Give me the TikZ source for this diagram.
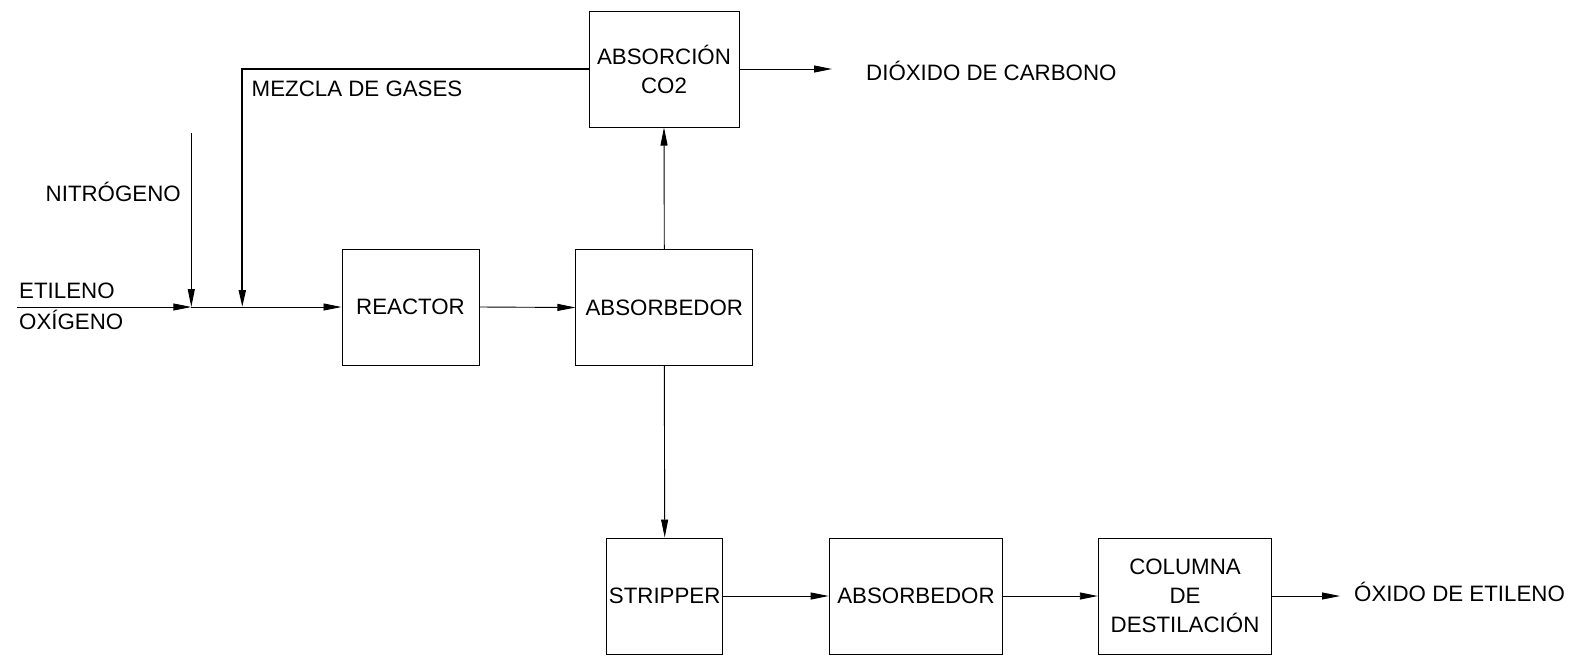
\documentclass[tikz,border=0pt]{standalone}
\usepackage{fontspec}
\setmainfont{Liberation Sans}
\usetikzlibrary{arrows.meta}
\begin{document}
\begin{tikzpicture}[x=1pt,y=-1pt,
  unitbox/.style={draw,line width=1pt,inner sep=0pt,align=center,
    font=\fontsize{22.3}{29}\selectfont},
  lbl/.style={inner sep=0pt,anchor=base west,font=\fontsize{22.3}{29}\selectfont},
  flow/.style={line width=0.9pt,-{Triangle[length=18pt,width=7pt]}},
  thickflow/.style={line width=2pt,-{Triangle[length=17pt,width=7pt]}}]
\useasboundingbox (0,0) rectangle (1573,657);
% boxes
\node[unitbox,minimum width=150pt,minimum height=116pt] (co2) at (664,69) {ABSORCIÓN\\CO2};
\node[unitbox,minimum width=137pt,minimum height=116pt] (reactor) at (410.5,307) {REACTOR};
\node[unitbox,minimum width=176.7pt,minimum height=116.4pt] (abs1) at (664.3,307.5) {ABSORBEDOR};
\node[unitbox,minimum width=116pt,minimum height=116pt] (strip) at (664.7,596) {STRIPPER};
\node[unitbox,minimum width=173.7pt,minimum height=116pt] (abs2) at (916,596) {ABSORBEDOR};
\node[unitbox,minimum width=173.4pt,minimum height=116pt] (col) at (1185,596) {COLUMNA\\DE\\DESTILACIÓN};
% labels
\node[lbl] (lnit) at (45.5,201) {NITRÓGENO};
\node[lbl] (leti) at (19,298) {ETILENO};
\node[lbl] (loxi) at (19,329) {OXÍGENO};
\node[lbl] (lmez) at (251.5,96.5) {MEZCLA DE GASES};
\node[lbl] (ldio) at (866,80) {DIÓXIDO DE CARBONO};
\node[lbl] (loxe) at (1354,601.5) {ÓXIDO DE ETILENO};
% free ends
\coordinate (e0) at (17,307);
\coordinate (j1) at (191.3,307);
\coordinate (n0) at (191.3,133);
\coordinate (m1) at (242.3,69);
\coordinate (j2) at (242.3,307);
\coordinate (dout) at (832,69);
\coordinate (oout) at (1340,596);
% connectors
\draw[flow] (e0) -- (j1);
\draw[flow] (n0) -- (j1);
\draw[flow] (j1) -- (reactor.west);
\draw[thickflow] (co2.west) -- (m1) -- (j2);
\draw[flow] (reactor.east) -- (abs1.west);
\draw[flow] (abs1.north) -- (co2.south);
\draw[flow] (co2.east) -- (dout);
\draw[flow] (abs1.south) -- (strip.north);
\draw[flow] (strip.east) -- (abs2.west);
\draw[flow] (abs2.east) -- (col.west);
\draw[flow] (col.east) -- (oout);
\end{tikzpicture}
\end{document}
